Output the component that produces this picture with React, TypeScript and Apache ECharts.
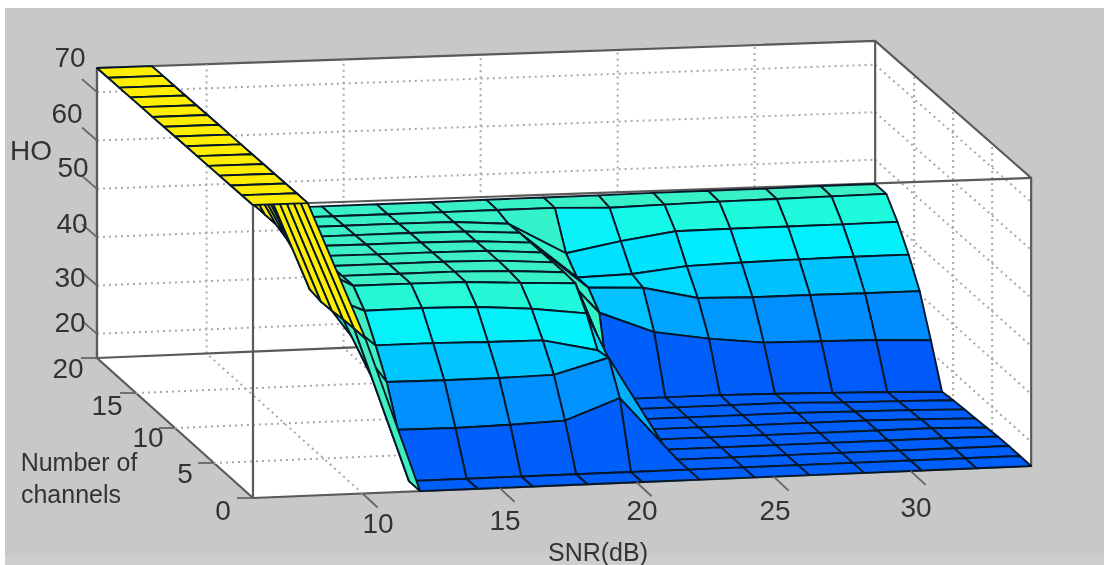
import React, { useEffect, useRef } from "react";
import * as echarts from "echarts";

const snrGrid = [6, 8, 10.1, 12.1, 14.2, 16.2, 18.2, 20.2, 22.3, 24.3, 26.3, 28.3, 30.4, 32.4, 34.4];
const channelGrid = [0, 1.43, 2.86, 4.29, 5.71, 7.14, 8.57, 10, 11.43, 12.86, 14.29, 15.71, 17.14, 18.57, 20];

const hoSnr06 = [75, 75, 75, 75, 75, 75, 75, 75, 75, 75, 75, 75, 75, 75, 75];
const hoSnr08 = [75, 75, 75, 75, 75, 75, 75, 75, 75, 75, 75, 75, 75, 75, 75];
const hoSnr10 = [46.8, 46.8, 46.7, 46.4, 46.3, 46.8, 51, 52.9, 54, 54, 54, 55, 57, 57, 57];
const hoSnr12 = [15, 15, 23.5, 31.3, 36.8, 41.9, 45, 45, 45, 45, 45, 44.8, 44.7, 44.6, 44.6];
const hoSnr14 = [15, 15, 23.4, 31.2, 36.8, 42, 45, 45, 45, 44.9, 44.9, 44.8, 44.7, 44.6, 44.6];
const hoSnr16 = [15, 15, 23.6, 31.2, 36.6, 41.8, 44.9, 45, 45, 44.9, 44.9, 44.8, 44.7, 44.6, 44.6];
const hoSnr18 = [15, 15, 24, 31.4, 36.5, 41, 44.3, 44.7, 44.8, 44.8, 44.7, 44.7, 44.6, 44.6, 44.6];
const hoSnr20 = [15, 15, 28.2, 34.5, 34, 39.6, 43.8, 44, 44, 44, 44, 44, 43.8, 44.6, 44.7];
const hoSnr22 = [15, 15, 15, 15, 15, 15, 15, 15, 15, 31, 34.2, 34.2, 37.2, 44.6, 44.7];
const hoSnr24 = [15, 15, 15, 15, 15, 15, 15, 15, 15, 26.5, 33.7, 34.5, 39.3, 44.2, 44.7];
const hoSnr26 = [15, 15, 15, 15, 15, 15, 15, 15, 15, 24.7, 31.1, 35.7, 40.9, 44.4, 44.8];
const hoSnr28 = [15, 15, 15, 15, 15, 15, 15, 15, 14.8, 23.4, 30.8, 36, 41, 44.6, 44.8];
const hoSnr30 = [15, 15, 15, 15, 15, 15, 14.8, 14.6, 14.5, 23.2, 30.8, 36.2, 41, 44.7, 44.8];
const hoSnr32 = [15, 15, 15, 15, 15, 14.8, 14.6, 14.4, 14.2, 23, 30.7, 36.3, 41, 44.8, 44.9];
const hoSnr34 = [15, 15, 15, 14.9, 14.7, 14.5, 14.3, 14.1, 13.8, 22.5, 30.7, 36.3, 41.1, 44.9, 44.9];

const surface = [hoSnr06, hoSnr08, hoSnr10, hoSnr12, hoSnr14, hoSnr16, hoSnr18, hoSnr20, hoSnr22, hoSnr24, hoSnr26, hoSnr28, hoSnr30, hoSnr32, hoSnr34];

const snrTicks = [10, 15, 20, 25, 30];
const channelTicks = [0, 5, 10, 15, 20];
const hoTicks = [20, 30, 40, 50, 60, 70];

const colorStops: [number, number[]][] = [
  [14, [0, 88, 250]],
  [23, [0, 140, 255]],
  [31, [0, 195, 255]],
  [36, [0, 240, 255]],
  [41, [32, 250, 220]],
  [45, [60, 240, 195]],
  [50, [70, 235, 185]],
  [70, [255, 238, 0]],
  [75, [255, 238, 0]],
];

const S0 = 6;
const S1 = 34.4;
const C1 = 20;
const Z0 = 15;
const Z1 = 75;

function project(s: number, c: number, z: number): number[] {
  const lift = 4.883 - (s - S0) * 0.0029 - c * 0.0025;
  return [
    253 + (s - S0) * 27.4 - c * 7.8,
    498 - (s - S0) * 1.127 - c * 7 - (z - Z0) * lift,
  ];
}

function colorOf(z: number): string {
  for (let i = 1; i < colorStops.length; i++) {
    if (z <= colorStops[i][0]) {
      const [a, ca] = colorStops[i - 1];
      const [b, cb] = colorStops[i];
      const t = Math.max(0, (z - a) / (b - a));
      return `rgb(${ca.map((v, k) => Math.round(v + (cb[k] - v) * t)).join(",")})`;
    }
  }
  return "rgb(255,238,0)";
}

const cells: number[][] = [];
for (let j = snrGrid.length - 2; j >= 0; j--) {
  for (let r = channelGrid.length - 2; r >= 0; r--) cells.push([j, r]);
}

const FONT = '"Liberation Sans", Arial, sans-serif';
const BOX = "#5a5a5a";
const DOT = "#a8a8a8";
const TEXT = "#333333";

const hoLabelAt: Record<number, number[]> = { 70: [70, 57], 60: [67, 113], 50: [73, 167], 40: [72, 223], 30: [70, 277], 20: [70, 322] };
const snrLabelAt: Record<number, number[]> = { 10: [378, 523], 15: [505, 520], 20: [642, 510], 25: [775, 510], 30: [916, 507] };
const chLabelAt: Record<number, number[]> = { 20: [68, 368], 15: [107, 405], 10: [148, 437], 5: [185, 473], 0: [223, 510] };

export default function App() {
  const ref = useRef<HTMLDivElement>(null);
  useEffect(() => {
    const chart = echarts.init(ref.current!, undefined, { renderer: "svg" });

    const boxRender = (_p: any, api: any) => {
      const P = (s: number, c: number, z: number) => api.coord(project(s, c, z));
      const line = (a: number[], b: number[], dotted: boolean, w?: number) => ({
        type: "line",
        shape: { x1: a[0], y1: a[1], x2: b[0], y2: b[1] },
        style: dotted
          ? { stroke: DOT, lineWidth: 2, lineDash: [2, 4], fill: null }
          : { stroke: BOX, lineWidth: w ?? 2.2, fill: null },
      });
      const children: any[] = [];
      children.push({
        type: "polygon",
        shape: {
          points: [P(S0, C1, Z1), P(S1, C1, Z1), P(S1, 0, Z1), P(S1, 0, Z0), P(S0, 0, Z0), P(S0, C1, Z0)],
        },
        style: { fill: "#ffffff", stroke: BOX, lineWidth: 2.2 },
      });
      hoTicks.forEach((z) => {
        children.push(line(P(S0, C1, z), P(S1, C1, z), true));
        children.push(line(P(S1, C1, z), P(S1, 0, z), true));
      });
      snrTicks.forEach((s) => {
        children.push(line(P(s, C1, Z0), P(s, C1, Z1), true));
        children.push(line(P(s, 0, Z0), P(s, C1, Z0), true));
      });
      channelTicks.slice(1, -1).forEach((c) => {
        children.push(line(P(S0, c, Z0), P(S1, c, Z0), true));
        children.push(line(P(S1, c, Z0), P(S1, c, Z1), true));
      });
      children.push(line(P(S0, C1, Z1), P(S0, 0, Z1), false));
      children.push(line(P(S0, C1, Z0), P(S1, C1, Z0), false));
      children.push(line(P(S0, C1, Z1), P(S0, C1, Z0), false));
      children.push(line(P(S0, 0, Z1), P(S0, 0, Z0), false));
      children.push(line(P(S1, C1, Z1), P(S1, C1, Z0), false));
      children.push(line(P(S0, 0, Z1), P(S1, 0, Z1), false));
      return { type: "group", children };
    };

    const cellRender = (p: any, api: any) => {
      const j = api.value(0);
      const r = api.value(1);
      const pt = (a: number, b: number) => api.coord(project(snrGrid[a], channelGrid[b], surface[a][b]));
      return {
        type: "polygon",
        z2: p.dataIndex,
        shape: { points: [pt(j, r), pt(j + 1, r), pt(j + 1, r + 1), pt(j, r + 1)] },
        style: { fill: colorOf(surface[j][r]), stroke: "#04182a", lineWidth: 1.9, lineJoin: "round" },
      };
    };

    const labelRender = (_p: any, api: any) => {
      const P = (s: number, c: number, z: number) => api.coord(project(s, c, z));
      const children: any[] = [];
      const tick = (a: number[], dx: number, dy: number) => {
        children.push({
          type: "line",
          shape: { x1: a[0], y1: a[1], x2: a[0] + dx, y2: a[1] + dy },
          style: { stroke: "#666", lineWidth: 1.8, fill: null },
        });
      };
      const label = (text: string, x: number, y: number, size: number) => {
        const at = api.coord([x, y]);
        children.push({
          type: "text",
          style: {
            text, x: at[0], y: at[1], fill: TEXT,
            font: `${size}px ${FONT}`,
            textAlign: "center", textVerticalAlign: "middle",
            align: "center", verticalAlign: "middle",
          },
        });
      };
      hoTicks.forEach((z) => {
        tick(P(S0, C1, z), -15, -13);
        label(String(z), hoLabelAt[z][0], hoLabelAt[z][1], 28);
      });
      snrTicks.forEach((s) => {
        tick(P(s, 0, Z0), 15, 14);
        label(String(s), snrLabelAt[s][0], snrLabelAt[s][1], 28);
      });
      channelTicks.forEach((c) => {
        tick(P(S0, c, Z0), -16, 0);
        label(String(c), chLabelAt[c][0], chLabelAt[c][1], 28);
      });
      label("HO", 31, 150, 28);
      label("SNR(dB)", 598, 552, 25);
      label("Number of", 79, 462, 25);
      label("channels", 71, 494, 25);
      return { type: "group", children };
    };

    chart.setOption({
      animation: false,
      backgroundColor: "transparent",
      grid: { left: 0, right: 0, top: 0, bottom: 0 },
      xAxis: { type: "value", min: 0, max: 1104, show: false },
      yAxis: { type: "value", min: 0, max: 565, inverse: true, show: false },
      tooltip: { show: false },
      series: [
        { type: "custom", name: "box", z: 1, clip: false, silent: true, data: [[0, 0]], renderItem: boxRender },
        { type: "custom", name: "HO surface", z: 2, clip: false, silent: true, data: cells, renderItem: cellRender },
        { type: "custom", name: "labels", z: 3, clip: false, silent: true, data: [[0, 0]], renderItem: labelRender },
      ],
    });
    return () => chart.dispose();
  }, []);

  return (
    <div style={{ position: "fixed", left: 0, top: 0, width: 1104, height: 565, background: "#ffffff", overflow: "hidden" }}>
      <div style={{ position: "absolute", left: 5, top: 8, width: 1099, height: 547, background: "#c8c8c8" }} />
      <div style={{ position: "absolute", left: 5, top: 555, width: 1099, height: 10, background: "#cecece" }} />
      <div ref={ref} style={{ position: "absolute", left: 0, top: 0, width: 1104, height: 565, filter: "blur(0.6px)" }} />
    </div>
  );
}
